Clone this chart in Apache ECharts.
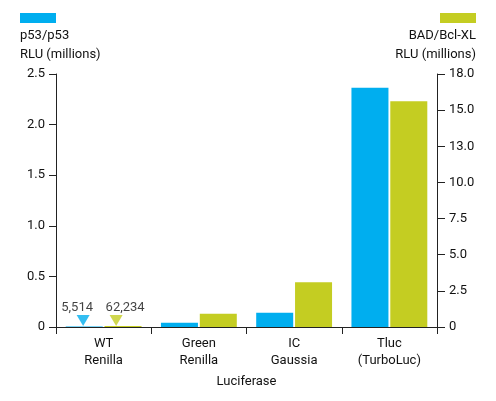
<!DOCTYPE html>
<html><head><meta charset="utf-8">
<script src="https://cdn.jsdelivr.net/npm/echarts@6/dist/echarts.min.js"></script>
<style>html,body{margin:0;padding:0;background:#fff}#c{width:496px;height:401px}</style>
</head><body><div id="c"></div>
<script>
const categories = ['WT\nRenilla', 'Green\nRenilla', 'IC\nGaussia', 'Tluc\n(TurboLuc)'];
const p53Values = [0.005514, 0.043, 0.142, 2.365];      // RLU millions, left axis
const badValues = [0.062234, 0.92, 3.10, 15.62];        // RLU millions, right axis
const markerLabels = ['5,514', '62,234'];
const leftTicks = ['0', '0.5', '1.0', '1.5', '2.0', '2.5'];
const rightTicks = ['0', '2.5', '5.0', '7.5', '10.0', '13.0', '15.0', '18.0'];

const FONT = 'Roboto, sans-serif';
const FS = 13;
const TXT = '#111';
const BLUE = '#00aeef';
const GREEN = '#c4cd22';
const axisLine = {show: true, lineStyle: {color: '#222', width: 1}};
const titleStyle = {fontFamily: FONT, fontSize: FS, fontWeight: 'normal', color: TXT, lineHeight: 19};

const chart = echarts.init(document.getElementById('c'));
chart.setOption({
  animation: false,
  textStyle: {fontFamily: FONT},
  grid: {left: 56, right: 59, top: 74, bottom: 74},
  title: [
    {text: 'p53/p53\nRLU (millions)', left: 20, top: 26, padding: 0, textStyle: titleStyle},
    {text: 'BAD/Bcl-XL', right: 20, top: 26, padding: 0, textStyle: titleStyle},
    {text: 'RLU (millions)', right: 20, top: 45, padding: 0, textStyle: titleStyle}
  ],
  legend: [
    {data: ['p53/p53'], left: 20, top: 13, padding: 0, itemWidth: 36, itemHeight: 10, icon: 'rect', itemGap: 0,
     formatter: () => '', textStyle: {padding: 0, width: 0}},
    {data: ['BAD/Bcl-XL'], right: 20, top: 13, padding: 0, itemWidth: 36, itemHeight: 10, icon: 'rect', itemGap: 0,
     formatter: () => '', textStyle: {padding: 0, width: 0}}
  ],
  xAxis: {
    type: 'category', data: categories,
    axisLine: axisLine,
    axisTick: {show: true, length: 7, lineStyle: {color: '#222'}},
    axisLabel: {color: TXT, fontSize: FS, lineHeight: 17, margin: 8, fontFamily: FONT},
    name: 'Luciferase', nameLocation: 'middle', nameGap: 48,
    nameTextStyle: {color: TXT, fontSize: FS, fontFamily: FONT}
  },
  yAxis: [
    {type: 'value', min: 0, max: 2.5, interval: 0.5, position: 'left',
     axisLine: axisLine, splitLine: {show: false},
     axisTick: {show: true, length: 7, lineStyle: {color: '#222'}},
     axisLabel: {color: TXT, fontSize: FS, margin: 11, fontFamily: FONT,
       formatter: v => leftTicks[Math.round(v / 0.5)]}},
    {type: 'value', min: 0, max: 17.5, interval: 2.5, position: 'right',
     axisLine: axisLine, splitLine: {show: false},
     axisTick: {show: true, length: 8, lineStyle: {color: '#222'}},
     axisLabel: {color: TXT, fontSize: FS, margin: 12, fontFamily: FONT,
       formatter: v => rightTicks[Math.round(v / 2.5)]}}
  ],
  series: [
    {name: 'p53/p53', type: 'bar', yAxisIndex: 0, data: p53Values, barWidth: 37, barGap: '5%',
     itemStyle: {color: BLUE}},
    {name: 'BAD/Bcl-XL', type: 'bar', yAxisIndex: 1, data: badValues, barWidth: 37, barGap: '5%',
     itemStyle: {color: GREEN}},
    {name: 'p53 marker', type: 'scatter', yAxisIndex: 0, data: [[0, 0]],
     symbol: 'path://M0,0 L12,0 L6,11 Z', symbolSize: [13, 11], symbolOffset: [-20.5, -6.5],
     itemStyle: {color: BLUE},
     label: {show: true, position: 'top', distance: 1, offset: [-6, 0], color: TXT, fontSize: FS, fontFamily: FONT,
       formatter: () => markerLabels[0]}},
    {name: 'BAD marker', type: 'scatter', yAxisIndex: 1, data: [[0, 0]],
     symbol: 'path://M0,0 L12,0 L6,11 Z', symbolSize: [13, 11], symbolOffset: [12.5, -6.5],
     itemStyle: {color: GREEN},
     label: {show: true, position: 'top', distance: 1, offset: [9, 0], color: TXT, fontSize: FS, fontFamily: FONT,
       formatter: () => markerLabels[1]}}
  ]
});
</script></body></html>
